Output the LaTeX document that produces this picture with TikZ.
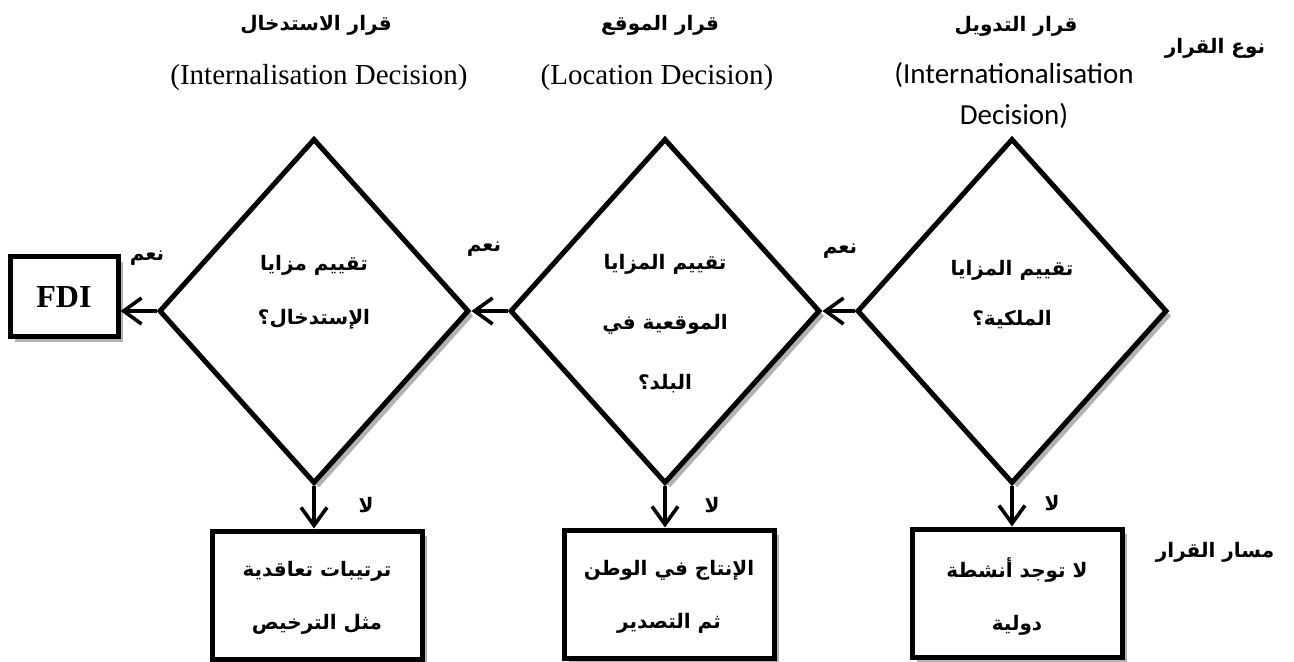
\documentclass[tikz,border=0pt]{standalone}
\usepackage{fontspec}
\setmainfont{Liberation Serif}
\newfontfamily\arabicfont[Script=Arabic]{DejaVu Sans}
\newfontfamily\calibrifont{Carlito}
\TeXXeTstate=1
\usetikzlibrary{shapes.geometric,arrows.meta,shadows}
\newcommand{\ar}[1]{\beginR #1\endR}

\tikzset{
  decision/.style={draw, diamond, line width=2.5pt, inner sep=0pt,
    minimum width=155pt, minimum height=172.5pt, fill=white,
    drop shadow={shadow xshift=2.5pt, shadow yshift=-2.5pt, fill=black, opacity=0.3}},
  outcome/.style={draw, rectangle, line width=2.5pt,
    minimum width=105pt, minimum height=64pt, fill=white,
    drop shadow={shadow xshift=2.5pt, shadow yshift=-2.5pt, fill=black, opacity=0.3}},
  artext/.style={font=\arabicfont\bfseries\fontsize{10}{#1}\selectfont, align=center},
  artext/.default=29,
  hdr/.style={font=\arabicfont\bfseries\fontsize{10}{12}\selectfont},
  latin/.style={font=\fontsize{14.5}{16}\selectfont},
  calib/.style={font=\calibrifont\fontsize{14.5}{16}\selectfont},
  flow/.style={-{Straight Barb[length=9pt,width=13pt]}, line width=1.8pt},
}

\begin{document}
\begin{tikzpicture}[x=0.5pt, y=-0.5pt]
  \useasboundingbox (0,0) rectangle (1294,662);

  % headers
  \node[hdr] (H1) at (1016,26) {\ar{قرار التدويل}};
  \node[calib] (H1a) at (1014,75) {(Internationalisation};
  \node[calib] (H1b) at (1014,116) {Decision)};
  \node[hdr] (H2) at (660,25) {\ar{قرار الموقع}};
  \node[latin] (H2a) at (657,78) {(Location Decision)};
  \node[hdr] (H3) at (316,25) {\ar{قرار الاستدخال}};
  \node[latin] (H3a) at (319,78) {(Internalisation Decision)};
  \node[hdr] (TYPE) at (1215,48) {\ar{نوع القرار}};
  \node[hdr] (PATH) at (1215,552) {\ar{مسار القرار}};

  % decisions
  \node[decision] (RD) at (1012,311) {};
  \node[decision] (MD) at (665,311) {};
  \node[decision] (LD) at (314,311) {};
  \node[artext=25] (RDt) at (1012,295) {\ar{تقييم المزايا}\\\ar{الملكية؟}};
  \node[artext=30] (MDt) at (665,324) {\ar{تقييم المزايا}\\\ar{الموقعية في}\\\ar{البلد؟}};
  \node[artext=27] (LDt) at (314,292) {\ar{تقييم مزايا}\\\ar{الإستدخال؟}};

  % outcomes
  \node[outcome] (RB) at (1017,593) {};
  \node[outcome] (MB) at (669,594) {};
  \node[outcome] (LB) at (317,595) {};
  \node[outcome, minimum width=54pt, minimum height=40pt,
    font=\bfseries\fontsize{16}{18}\selectfont] (FDI) at (64,297) {FDI};
  \node[artext=26.5] (RBt) at (1017,597) {\ar{لا توجد أنشطة}\\\ar{دولية}};
  \node[artext=26.5] (MBt) at (669,597) {\ar{الإنتاج في الوطن}\\\ar{ثم التصدير}};
  \node[artext=26.5] (LBt) at (317,598) {\ar{ترتيبات تعاقدية}\\\ar{مثل الترخيص}};

  % connectors
  \draw[flow] (RD.west) -- (MD.east);
  \draw[flow] (MD.west) -- (LD.east);
  \draw[flow] (LD.west) -- (LD.west -| FDI.east);
  \draw[flow] (RD.south) -- (RD.south |- RB.north);
  \draw[flow] (MD.south) -- (MD.south |- MB.north);
  \draw[flow] (LD.south) -- (LD.south |- LB.north);

  % yes / no
  \node[hdr] (Y1) at (840,251) {\ar{نعم}};
  \node[hdr] (Y2) at (484,249) {\ar{نعم}};
  \node[hdr] (Y3) at (147,258) {\ar{نعم}};
  \node[hdr] (N1) at (1052,503) {\ar{لا}};
  \node[hdr] (N2) at (712,505) {\ar{لا}};
  \node[hdr] (N3) at (366,505) {\ar{لا}};
\end{tikzpicture}
\end{document}
